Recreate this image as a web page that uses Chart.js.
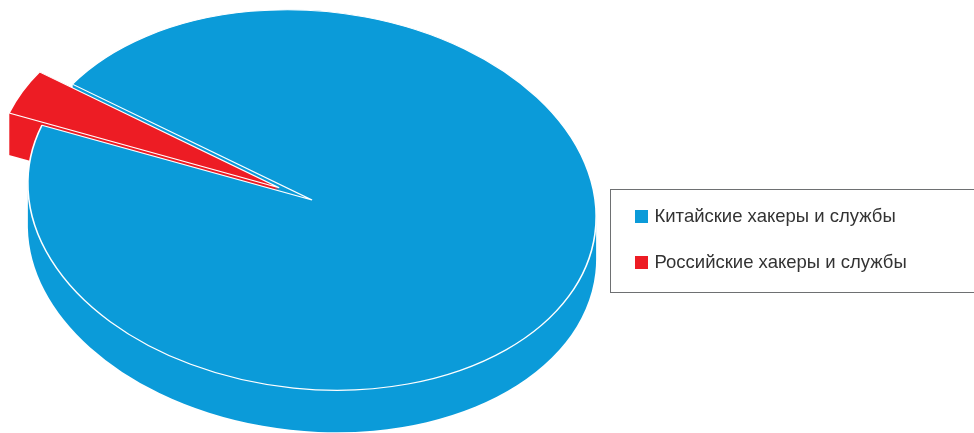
<!DOCTYPE html>
<html>
<head>
<meta charset="utf-8">
<script src="https://cdn.jsdelivr.net/npm/chart.js@4"></script>
<style>
  html, body { margin: 0; padding: 0; background: #fff; }
  #wrap { position: relative; width: 974px; height: 433px; overflow: hidden; }
  #chart { position: absolute; left: 0; top: 0; }
  #legend {
    position: absolute; left: 610px; top: 189px; width: 400px; height: 104px;
    border: 1.5px solid #6e7072; box-sizing: border-box;
    font-family: 'Liberation Sans', Arial, sans-serif; font-size: 18.5px; color: #333;
  }
  .item { position: absolute; left: 23.5px; height: 22px; line-height: 22px; display: flex; align-items: center; white-space: nowrap; }
  .box { width: 13px; height: 13px; margin-right: 7px; }
</style>
</head>
<body>
<div id="wrap">
  <canvas id="chart" width="974" height="433"></canvas>
  <div id="legend"></div>
</div>
<script>
const labels = ['Китайские хакеры и службы', 'Российские хакеры и службы'];
const shares = [96, 4];
const sliceColors = ['#0b9bd9', '#ed1c24'];

// fake 3d: squash the pie into a tilted ellipse and extrude it downwards
const pie3d = {
  id: 'pie3d',
  beforeDatasetsDraw(chart, args, opts) {
    const ctx = chart.ctx;
    const arcs = chart.getDatasetMeta(0).data;
    const R = arcs[0].outerRadius;
    const cx = arcs[0].x, cy = arcs[0].y;

    const place = (dy) => {
      ctx.translate(opts.x, opts.y + dy);
      ctx.rotate(opts.tilt * Math.PI / 180);
      ctx.scale(opts.rx / R, opts.ry / R);
      ctx.translate(-cx, -cy);
    };
    const shift = (arc, i) => {
      const d = (opts.explode[i] || 0) * R;
      const mid = (arc.startAngle + arc.endAngle) / 2;
      ctx.translate(Math.cos(mid) * d, Math.sin(mid) * d);
    };

    // side walls: one path made of stacked copies, filled once
    arcs.forEach((arc, i) => {
      ctx.beginPath();
      for (let dy = opts.depth; dy > 0; dy -= 1) {
        ctx.save();
        place(dy);
        shift(arc, i);
        ctx.moveTo(arc.x, arc.y);
        ctx.arc(arc.x, arc.y, arc.outerRadius, arc.startAngle, arc.endAngle);
        ctx.closePath();
        ctx.restore();
      }
      ctx.fillStyle = arc.options.backgroundColor;
      ctx.fill('nonzero');
    });

    // top faces
    arcs.forEach((arc, i) => {
      ctx.save();
      place(0);
      shift(arc, i);
      arc.draw(ctx);
      ctx.restore();
    });
    return false;
  }
};

new Chart(document.getElementById('chart'), {
  type: 'pie',
  data: {
    labels: labels,
    datasets: [{
      data: shares,
      backgroundColor: sliceColors,
      borderColor: '#ffffff',
      borderWidth: 1.2
    }]
  },
  options: {
    responsive: false,
    animation: false,
    events: [],
    rotation: 298.5,
    layout: { padding: 0 },
    plugins: {
      legend: { display: false },
      tooltip: { enabled: false },
      pie3d: { x: 312, y: 200, rx: 285, ry: 189, tilt: 6, depth: 42, explode: [0, 0.128] }
    }
  },
  plugins: [pie3d]
});

const legend = document.getElementById('legend');
labels.forEach((text, i) => {
  const row = document.createElement('div');
  row.className = 'item';
  row.style.top = (15 + i * 46) + 'px';
  const box = document.createElement('span');
  box.className = 'box';
  box.style.background = sliceColors[i];
  row.appendChild(box);
  row.appendChild(document.createTextNode(text));
  legend.appendChild(row);
});
</script>
</body>
</html>
